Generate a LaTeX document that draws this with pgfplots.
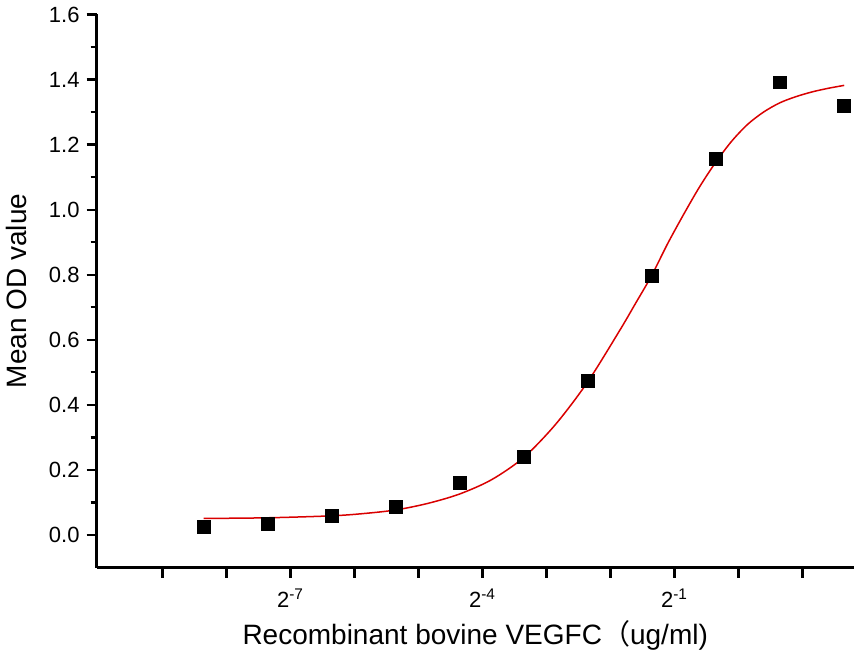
\documentclass[border=0pt]{standalone}
\usepackage{pgfplots}
\pgfplotsset{compat=1.18}
\usepackage{fontspec}
\setmainfont{Liberation Sans}
\newfontfamily\cjk{Noto Sans CJK SC}

% concentration as log2(ug/ml), mean OD
\pgfplotstableread{
x y
-8.36 0.025
-7.36 0.035
-6.36 0.058
-5.36 0.086
-4.36 0.160
-3.36 0.240
-2.36 0.474
-1.36 0.797
-0.36 1.157
0.64 1.391
1.64 1.320
}\measured

% fitted curve
\pgfplotstableread{
x y
-8.36 0.051
-7.36 0.053
-6.36 0.059
-5.86 0.066
-5.36 0.077
-4.86 0.097
-4.36 0.126
-3.86 0.170
-3.36 0.238
-2.86 0.340
-2.36 0.470
-1.86 0.628
-1.61 0.712
-1.36 0.797
-1.11 0.895
-0.86 0.985
-0.61 1.070
-0.36 1.145
-0.11 1.210
0.14 1.262
0.39 1.300
0.64 1.328
0.89 1.347
1.15 1.362
1.40 1.373
1.65 1.382
}\fitted

\begin{document}
\begin{tikzpicture}
\begin{axis}[
    scale only axis,
    width=378.5pt, height=276.5pt,
    xmin=-10.03, xmax=1.8,
    ymin=-0.1, ymax=1.6,
    axis x line=bottom, axis y line=left,
    axis line style={-, line width=1.2pt},
    tick align=outside,
    major tick length=5pt, minor tick length=3pt,
    every tick/.style={black, line width=1.1pt},
    xtick={-9,-8,-7,-6,-5,-4,-3,-2,-1,0,1},
    xticklabels={,,2\textsuperscript{-7},,,2\textsuperscript{-4},,,2\textsuperscript{-1},,},
    ytick={0,0.2,0.4,0.6,0.8,1.0,1.2,1.4,1.6},
    minor y tick num=1,
    /pgf/number format/assume math mode=true,
    yticklabel style={/pgf/number format/.cd, fixed, fixed zerofill, precision=1},
    tick label style={font=\fontsize{11}{13}\selectfont},
    xticklabel style={yshift=-2pt},
    label style={font=\fontsize{14}{16}\selectfont},
    xlabel={Recombinant bovine VEGFC{\cjk （}ug/ml)},
    ylabel={Mean OD value},
    xlabel style={yshift=0pt},
    ylabel style={yshift=4pt},
    clip=false,
]
\addplot[red!85!black, line width=0.75pt, smooth, tension=0.5] table[x=x, y=y] {\fitted};
\addplot[only marks, mark=square*, mark size=3.2pt, black] table[x=x, y=y] {\measured};
\end{axis}
\end{tikzpicture}
\end{document}
